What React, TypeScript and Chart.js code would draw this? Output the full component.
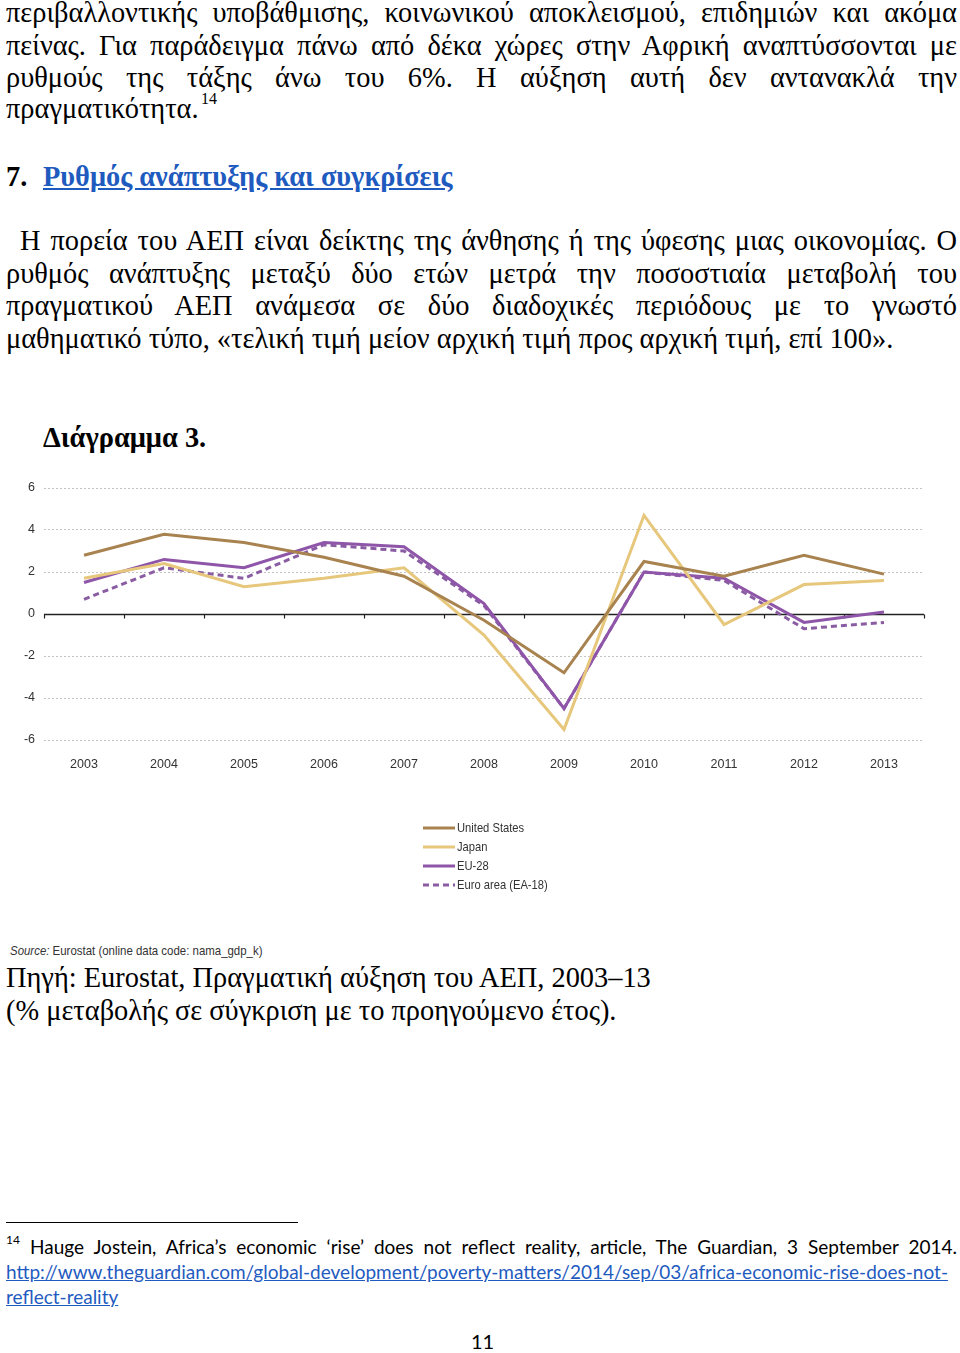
import React, { useEffect, useRef } from "react";
import { Chart, registerables } from "chart.js";

Chart.register(...registerables);

const years = ["2003", "2004", "2005", "2006", "2007", "2008", "2009", "2010", "2011", "2012", "2013"];
const unitedStates = [2.8, 3.8, 3.4, 2.7, 1.8, -0.3, -2.8, 2.5, 1.8, 2.8, 1.9];
const japan = [1.7, 2.4, 1.3, 1.7, 2.2, -1.0, -5.5, 4.7, -0.5, 1.4, 1.6];
const eu28 = [1.5, 2.6, 2.2, 3.4, 3.2, 0.5, -4.5, 2.0, 1.7, -0.4, 0.1];
const euroArea = [0.7, 2.2, 1.7, 3.3, 3.0, 0.4, -4.5, 2.0, 1.6, -0.7, -0.4];
const seriesNames = ["United States", "Japan", "EU-28", "Euro area (EA-18)"];
const yMin = -6;
const yMax = 6;
const yStep = 2;

const SERIF = "'Liberation Serif','Times New Roman',serif";
const SANS = "'Liberation Sans',Arial,sans-serif";
const FOOT = "Lato,'Open Sans',sans-serif";
const BODY = 28.4;

const extrasPlugin = {
  id: "extras",
  beforeDatasetsDraw(chart: any) {
    const { ctx, chartArea, scales } = chart;
    const y0 = Math.round(scales.y.getPixelForValue(0)) + 0.5;
    ctx.save();
    ctx.strokeStyle = "#222";
    ctx.lineWidth = 1.5;
    ctx.beginPath();
    ctx.moveTo(chartArea.left, y0);
    ctx.lineTo(chartArea.right, y0);
    ctx.stroke();
    ctx.lineWidth = 1.2;
    for (let i = 0; i <= years.length; i++) {
      const x = Math.round(scales.x.getPixelForValue(i - 0.5)) + 0.5;
      ctx.beginPath();
      ctx.moveTo(x, y0);
      ctx.lineTo(x, y0 + 4);
      ctx.stroke();
    }
    ctx.restore();
  },
  afterDraw(chart: any) {
    const { ctx } = chart;
    ctx.save();
    ctx.textBaseline = "middle";
    chart.data.datasets.forEach((ds: any, i: number) => {
      const y = 358 + i * 19;
      ctx.strokeStyle = ds.borderColor;
      ctx.lineWidth = 3;
      ctx.setLineDash(ds.borderDash || []);
      ctx.beginPath();
      ctx.moveTo(423, y);
      ctx.lineTo(455, y);
      ctx.stroke();
      ctx.save();
      ctx.translate(457, y);
      ctx.scale(0.86, 1);
      ctx.font = "13px " + SANS;
      ctx.fillStyle = "#333";
      ctx.fillText(ds.label, 0, 0);
      ctx.restore();
    });
    ctx.restore();
  },
};

function GdpChart() {
  const ref = useRef<HTMLCanvasElement | null>(null);
  useEffect(() => {
    if (!ref.current) return;
    const mk = (label: string, data: number[], color: string, dash?: number[]) => ({
      label,
      data,
      borderColor: color,
      backgroundColor: color,
      borderWidth: 3,
      borderDash: dash || [],
      pointRadius: 0,
      tension: 0,
      fill: false,
    });
    const chart = new Chart(ref.current, {
      type: "line",
      data: {
        labels: years,
        datasets: [
          mk(seriesNames[0], unitedStates, "#A8834F"),
          mk(seriesNames[1], japan, "#E6C77C"),
          mk(seriesNames[2], eu28, "#8E55A9"),
          mk(seriesNames[3], euroArea, "#8A5DA3", [6, 4]),
        ],
      },
      options: {
        responsive: false,
        animation: false,
        layout: { padding: { top: 18, right: 36, left: 0, bottom: 130 } },
        plugins: { legend: { display: false }, tooltip: { enabled: false } },
        scales: {
          x: {
            offset: true,
            grid: { display: false },
            border: { display: false },
            ticks: { color: "#333", font: { family: SANS, size: 12.5 }, padding: 9, maxRotation: 0 },
            afterFit: (s: any) => { s.height = 30; },
          },
          y: {
            min: yMin,
            max: yMax,
            ticks: { stepSize: yStep, color: "#333", font: { family: SANS, size: 12.5 }, padding: 9 },
            grid: {
              drawTicks: false,
              color: (c: any) => (c.tick && c.tick.value === 0 ? "rgba(0,0,0,0)" : "#c4c4c4"),
              lineWidth: 1,
            },
            border: { display: false, dash: [2, 2] },
            afterFit: (s: any) => { s.width = 44; },
          },
        },
      },
      plugins: [extrasPlugin],
    });
    return () => chart.destroy();
  }, []);
  return <canvas ref={ref} width={960} height={430} style={{ display: "block" }} />;
}

type LineProps = {
  x: number;
  y: number;
  w?: number;
  size?: number;
  family?: string;
  bold?: boolean;
  justify?: boolean;
  children: React.ReactNode;
  color?: string;
  lh?: number;
  sx?: number;
  dy?: number;
};

function Line({ x, y, w, size = BODY, family = SERIF, bold, justify, children, color = "#000", lh = 32, sx, dy }: LineProps) {
  const shift = dy !== undefined ? dy : family === SERIF ? 2.5 : 0;
  return (
    <div
      style={{
        position: "absolute",
        left: x,
        top: y - lh * 0.56 + shift,
        width: w,
        fontFamily: family,
        fontSize: size,
        fontWeight: bold ? 700 : 400,
        lineHeight: lh + "px",
        whiteSpace: "nowrap",
        textAlign: justify ? "justify" : "left",
        textAlignLast: justify ? "justify" : "left",
        color,
        transform: sx ? `scaleX(${sx})` : undefined,
        transformOrigin: "left center",
      } as React.CSSProperties}
    >
      {children}
    </div>
  );
}

const link: React.CSSProperties = { color: "#1F5BBF", textDecoration: "underline" };

export default function App() {
  return (
    <div style={{ position: "absolute", left: 0, top: 0, width: 960, height: 1353, background: "#fff", overflow: "hidden" }}>
      <Line x={6} y={12} w={951} justify>περιβαλλοντικής υποβάθμισης, κοινωνικού αποκλεισμού, επιδημιών και ακόμα</Line>
      <Line x={6} y={45} w={951} justify>πείνας. Για παράδειγμα πάνω από δέκα χώρες στην Αφρική αναπτύσσονται με</Line>
      <Line x={6} y={77} w={951} justify>ρυθμούς της τάξης άνω του 6%. Η αύξηση αυτή δεν αντανακλά την</Line>
      <Line x={6} y={108}>πραγματικότητα.</Line>
      <Line x={201} y={98} size={16} lh={18}>14</Line>

      <Line x={6} y={176} bold>7.</Line>
      <Line x={43} y={176} bold>
        <span style={link}>Ρυθμός ανάπτυξης και συγκρίσεις</span>
      </Line>

      <Line x={20} y={240} w={937} justify>Η πορεία του ΑΕΠ είναι δείκτης της άνθησης ή της ύφεσης μιας οικονομίας. Ο</Line>
      <Line x={6} y={273} w={951} justify>ρυθμός ανάπτυξης μεταξύ δύο ετών μετρά την ποσοστιαία μεταβολή του</Line>
      <Line x={6} y={305} w={951} justify>πραγματικού ΑΕΠ ανάμεσα σε δύο διαδοχικές περιόδους με το γνωστό</Line>
      <Line x={6} y={338}>μαθηματικό τύπο, «τελική τιμή μείον αρχική τιμή προς αρχική τιμή, επί 100».</Line>

      <Line x={43} y={437} bold>Διάγραμμα 3.</Line>

      <div style={{ position: "absolute", left: 0, top: 470 }}>
        <GdpChart />
      </div>

      <Line x={10} y={950} size={13} family={SANS} lh={16} color="#333" sx={0.88} dy={2}>
        <i>Source:</i> Eurostat (online data code: nama_gdp_k)
      </Line>
      <Line x={6} y={977}>Πηγή: Eurostat, Πραγματική αύξηση του ΑΕΠ, 2003–13</Line>
      <Line x={6} y={1010}>(% μεταβολής σε σύγκριση με το προηγούμενο έτος).</Line>

      <div style={{ position: "absolute", left: 6, top: 1222, width: 292, height: 1, background: "#000" }} />
      <Line x={6} y={1241} size={12} family={FOOT} lh={16}>14</Line>
      <Line x={30} y={1248} w={927} size={19} family={FOOT} lh={24} justify>
        Hauge Jostein, Africa’s economic ‘rise’ does not reflect reality, article, The Guardian, 3 September 2014.
      </Line>
      <Line x={6} y={1273} size={19} family={FOOT} lh={24}>
        <span style={link}>http://www.theguardian.com/global-development/poverty-matters/2014/sep/03/africa-economic-rise-does-not-</span>
      </Line>
      <Line x={6} y={1298} size={19} family={FOOT} lh={24}>
        <span style={link}>reflect-reality</span>
      </Line>
      <Line x={471} y={1342} size={20} family={FOOT} lh={24}>11</Line>
    </div>
  );
}
